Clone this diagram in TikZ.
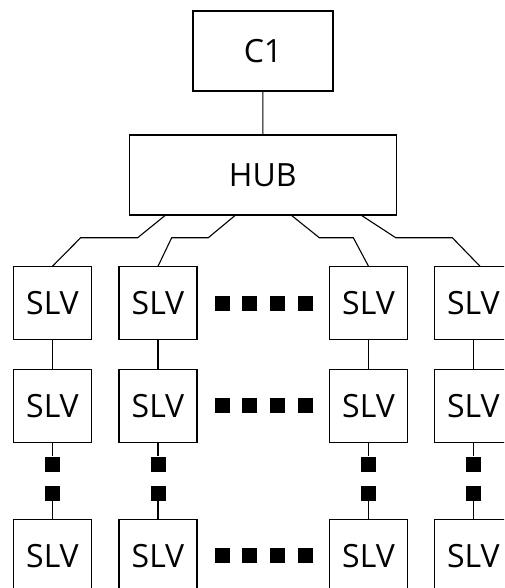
\documentclass[tikz,border=0pt]{standalone}
\usepackage{fontspec}
\setmainfont{Open Sans}
\usetikzlibrary{calc}

\begin{document}
\begin{tikzpicture}[x=1pt,y=-1pt,
      box/.style={draw,line width=1.1pt,inner sep=0pt,
        font=\fontsize{32}{36}\selectfont},
      slv/.style={box,minimum width=78pt,minimum height=73pt},
      dot/.style={fill=black,inner sep=0pt,minimum size=15pt},
      wire/.style={line width=1.1pt}]

    \useasboundingbox (0,0) rectangle (504,588);
    \clip (0,0) rectangle (504,588);

    % Controleur et hub.
    \node[box,minimum width=140pt,minimum height=80pt] (c1) at (263,51) {C1};
    \node[box,minimum width=267pt,minimum height=80pt] (hub) at (262.7,175) {HUB};
    \draw[wire] (c1) -- (hub);

    % Premiere rangee d'esclaves.
    \node[slv] (s11) at (52.5,303.3) {SLV};
    \node[slv] (s12) at (158,303.3) {SLV};
    \node[slv] (s13) at (368.5,303.3) {SLV};
    \node[slv] (s14) at (473.3,303.3) {SLV};

    % Deuxieme rangee.
    \node[slv] (s21) at (52.5,405.7) {SLV};
    \node[slv] (s22) at (158,405.7) {SLV};
    \node[slv] (s23) at (368.5,405.7) {SLV};
    \node[slv] (s24) at (473.3,405.7) {SLV};

    % Derniere rangee.
    \node[slv] (s31) at (52.5,556) {SLV};
    \node[slv] (s32) at (158,556) {SLV};
    \node[slv] (s33) at (368.5,556) {SLV};
    \node[slv] (s34) at (473.3,556) {SLV};

    % Liaisons hub -> premiere rangee.
    \draw[wire] ($(hub.south)+(-97.7,0)$) -- (137.7,237.7) -- (80.7,237.7) -- (s11.north);
    \draw[wire] ($(hub.south)+(-27.7,0)$) -- (208.3,237.7) -- (171.7,237.7) -- (s12.north);
    \draw[wire] ($(hub.south)+(29,0)$) -- (319.3,237.7) -- (353.3,237.7) -- (s13.north);
    \draw[wire] ($(hub.south)+(99,0)$) -- (395.7,237.7) -- (452.3,237.7) -- ($(s14.north)+(6.7,0)$);

    % Chainage vertical.
    \draw[wire] (s11) -- (s21);
    \draw[wire] (s12) -- (s22);
    \draw[wire] (s13) -- (s23);
    \draw[wire] (s14) -- (s24);

    % Points de suspension horizontaux.
    \node[dot] (h11) at (222,303.7) {};
    \node[dot] (h12) at (249.5,303.7) {};
    \node[dot] (h13) at (277,303.7) {};
    \node[dot] (h14) at (305,303.7) {};
    \node[dot] (h21) at (222,405.7) {};
    \node[dot] (h22) at (249.5,405.7) {};
    \node[dot] (h23) at (277,405.7) {};
    \node[dot] (h24) at (305,405.7) {};
    \node[dot] (h31) at (222,555.5) {};
    \node[dot] (h32) at (249.5,555.5) {};
    \node[dot] (h33) at (277,555.5) {};
    \node[dot] (h34) at (305,555.5) {};

    % Points de suspension verticaux.
    \node[dot] (v1a) at (52.5,464) {};
    \node[dot] (v1b) at (52.5,493) {};
    \node[dot] (v2a) at (158,464) {};
    \node[dot] (v2b) at (158,493) {};
    \node[dot] (v3a) at (368.5,464) {};
    \node[dot] (v3b) at (368.5,493) {};
    \node[dot] (v4a) at (473.3,464) {};
    \node[dot] (v4b) at (473.3,493) {};
    \draw[wire] (s21) -- (v1a);
    \draw[wire] (v1b) -- (s31);
    \draw[wire] (s22) -- (v2a);
    \draw[wire] (v2b) -- (s32);
    \draw[wire] (s23) -- (v3a);
    \draw[wire] (v3b) -- (s33);
    \draw[wire] (s24) -- (v4a);
    \draw[wire] (v4b) -- (s34);
  \end{tikzpicture}
\end{document}
